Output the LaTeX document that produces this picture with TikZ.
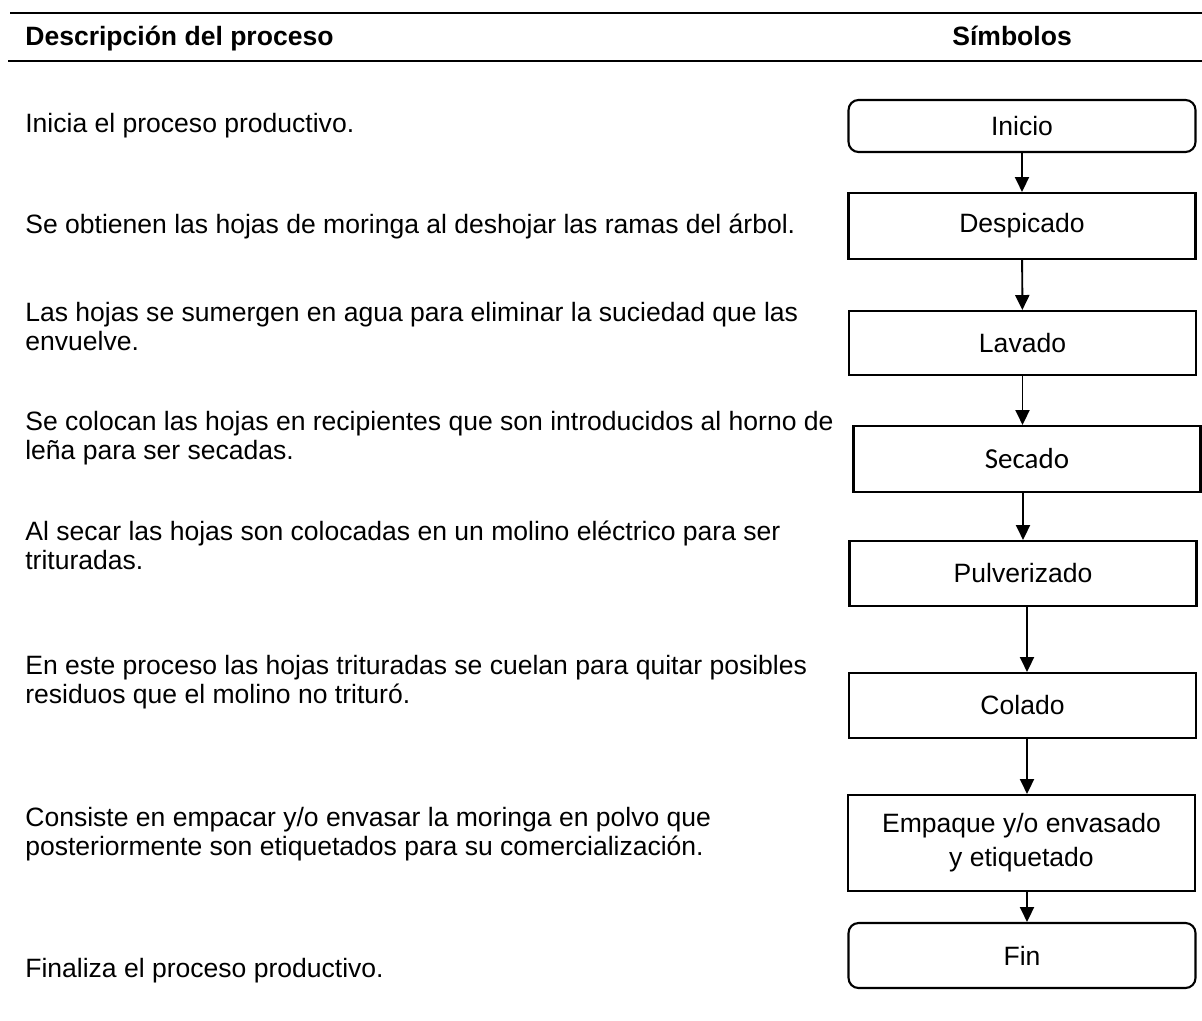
\documentclass[tikz,border=0pt]{standalone}
\usepackage{fontspec}
\setmainfont{Liberation Sans}
\newfontfamily\calfont{Carlito}
\usetikzlibrary{arrows.meta}
\begin{document}
\begin{tikzpicture}[x=0.02cm,y=-0.02cm,>={Triangle[width=8pt,length=8.5pt]}]
			\tikzstyle{box} = [draw, line width=1.2pt, minimum width=6.94cm, inner sep=0pt, align=center, font=\fontsize{15.1}{19.5}\selectfont]
			\tikzstyle{rbox} = [box, rounded corners=0.2cm]
			\tikzstyle{txt} = [anchor=base west, inner sep=0pt, align=left, font=\fontsize{15.1}{16.5}\selectfont]
			\tikzstyle{hd} = [anchor=base west, inner sep=0pt, font=\bfseries\fontsize{15.1}{17.6}\selectfont]
			\useasboundingbox (0,0) rectangle (1202,1020);

			% cabecera
			\draw [line width=1.4pt] (10,13) -- (1202,13);
			\draw [line width=1.4pt] (8,61) -- (1202,61);
			\node [hd] (h1) at (25,46) {Descripción del proceso};
			\node [hd] (h2) at (952,46) {Símbolos};

			% simbolos
			\node [rbox,minimum height=1.04cm] (p1) at (1022,126) {Inicio};
			\node [box,minimum height=1.32cm] (p2) at (1022,226) {Despicado};
			\node [box,minimum height=1.28cm] (p3) at (1022.5,343) {Lavado};
			\node [box,minimum height=1.32cm,font=\calfont\fontsize{16.5}{19}\selectfont] (p4) at (1027,459) {Secado};
			\node [box,minimum height=1.3cm] (p5) at (1023,573.5) {Pulverizado};
			\node [box,minimum height=1.3cm] (p6) at (1022.5,705.5) {Colado};
			\node [box,minimum height=1.92cm] (p7) at (1021.5,843) {Empaque y/o envasado\\y etiquetado};
			\node [rbox,minimum height=1.3cm] (p8) at (1022,955.5) {Fin};

			% descripciones (base = ultima linea)
			\node [txt] (d1) at (25,133) {Inicia el proceso productivo.};
			\node [txt] (d2) at (25,234) {Se obtienen las hojas de moringa al deshojar las ramas del árbol.};
			\node [txt] (d3) at (25,350) {Las hojas se sumergen en agua para eliminar la suciedad que las\\envuelve.};
			\node [txt] (d4) at (25,459) {Se colocan las hojas en recipientes que son introducidos al horno de\\leña para ser secadas.};
			\node [txt] (d5) at (25,569) {Al secar las hojas son colocadas en un molino eléctrico para ser\\trituradas.};
			\node [txt] (d6) at (25,703) {En este proceso las hojas trituradas se cuelan para quitar posibles\\residuos que el molino no trituró.};
			\node [txt] (d7) at (25,855) {Consiste en empacar y/o envasar la moringa en polvo que\\posteriormente son etiquetados para su comercialización.};
			\node [txt] (d8) at (25,977) {Finaliza el proceso productivo.};

			\draw [->, line width=1.1pt] (p1) -- (p2);
			\draw [->, line width=1.1pt] (p2) -- (p3);
			\draw [->, line width=1.1pt] (p3.south) -- (p3.south |- p4.north);
			\draw [->, line width=1.1pt] ([xshift=-0.08cm]p4.south) -- ([xshift=-0.08cm]p4.south |- p5.north);
			\draw [->, line width=1.1pt] ([xshift=0.08cm]p5.south) -- ([xshift=0.08cm]p5.south |- p6.north);
			\draw [->, line width=1.1pt] ([xshift=0.09cm]p6.south) -- ([xshift=0.09cm]p6.south |- p7.north);
			\draw [->, line width=1.1pt] ([xshift=0.11cm]p7.south) -- ([xshift=0.11cm]p7.south |- p8.north);

		\end{tikzpicture}
\end{document}
